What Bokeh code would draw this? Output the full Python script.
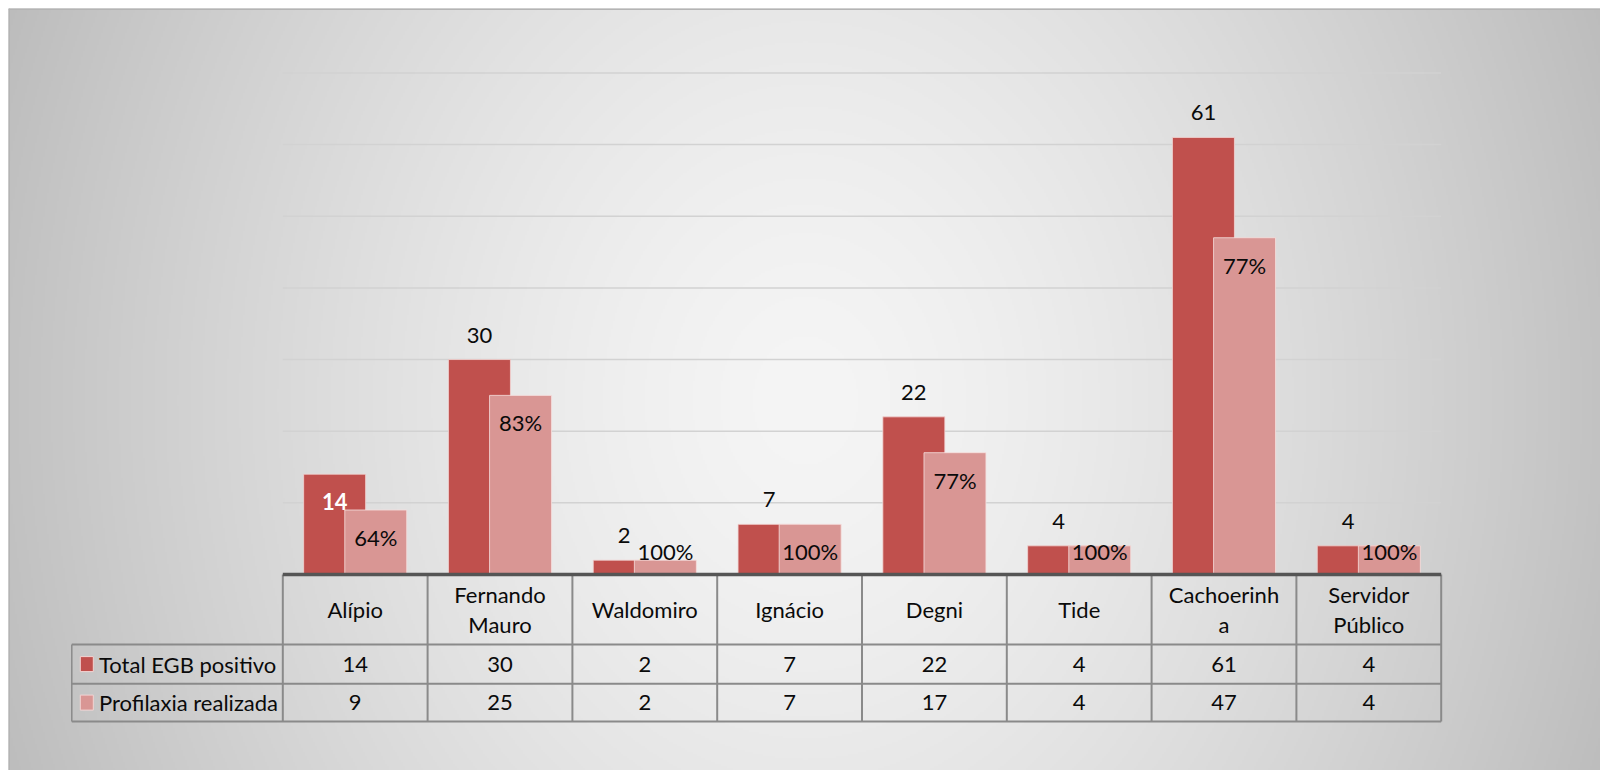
import numpy as np
from bokeh.plotting import figure
from bokeh.models import Range1d
from bokeh.core.properties import value
from bokeh.embed import file_html
from bokeh.resources import INLINE

# ---------------- data ----------------
categories = ["Alípio", "Fernando Mauro", "Waldomiro", "Ignácio", "Degni",
              "Tide", "Cachoerinha", "Servidor Público"]
header_lines = [["Alípio"], ["Fernando", "Mauro"], ["Waldomiro"], ["Ignácio"],
                ["Degni"], ["Tide"], ["Cachoerinh", "a"], ["Servidor", "Público"]]
total_egb = [14, 30, 2, 7, 22, 4, 61, 4]
profilaxia = [9, 25, 2, 7, 17, 4, 47, 4]
series_names = ["Total EGB positivo", "Profilaxia realizada"]
y_gridlines = [10, 20, 30, 40, 50, 60, 70]

# ---------------- style / layout ----------------
DARK = "#C0504D"
LIGHT = "#D99694"
FONT = value("Lato")
FS = "22px"
TXT = "#0a0a0a"

W, H = 1600, 770
ML, MT = 8, 8                    # white border left / top
PX_CAT = 144.8                   # pixels per category
CAT0 = 282.3                     # page x of category 0 start
PX_UNIT = 7.165                  # pixels per value unit
BASE = 574.0                     # page y of value 0

x_start = (ML - CAT0) / PX_CAT
x_end = (W - CAT0) / PX_CAT
y_end = (BASE - MT) / PX_UNIT
y_start = -(H - BASE) / PX_UNIT

def px_y(dy):
    return dy / PX_UNIT

def px_x(dx):
    return dx / PX_CAT

n = len(categories)
idx = np.arange(n)
ctr = idx + 0.5
off = 0.142
bw = 0.428

p = figure(width=W, height=H, x_range=Range1d(x_start, x_end), y_range=Range1d(y_start, y_end),
           x_axis_type=None, y_axis_type=None, toolbar_location=None, output_backend="svg",
           min_border=0, min_border_left=ML, min_border_top=MT, outline_line_color=None,
           background_fill_color="#dcdcdc", border_fill_color="white")

# background gradient over the frame
FW, FH = W - ML, H - MT
ny, nx = FH // 2, FW // 2
jj, ii = np.mgrid[0:ny, 0:nx]
px_page = ML + (ii + 0.5) * 2
py_page = MT + FH - (jj + 0.5) * 2
r = np.sqrt(((px_page - 805) / 820.0) ** 2 + ((py_page - 400) / 1000.0) ** 2)
r = np.clip(r, 0, 1.15)
g = np.clip(245 - 53 * r ** 1.45, 0, 255).astype(np.uint8)
rgba = np.zeros((ny, nx, 4), dtype=np.uint8)
rgba[..., 0] = g
rgba[..., 1] = g
rgba[..., 2] = g
rgba[..., 3] = 255
img = rgba.view(np.uint32).reshape(ny, nx)
p.image_rgba(image=[img], x=x_start, y=y_start, dw=x_end - x_start, dh=y_end - y_start)

# frame lines (top / left)
p.segment(x0=[x_start, x_start], y0=[y_end, y_end], x1=[x_end, x_start], y1=[y_end, y_start],
          line_color="#b4b4b4", line_width=3)

# gridlines
p.segment(x0=[0] * len(y_gridlines), x1=[n] * len(y_gridlines), y0=y_gridlines, y1=y_gridlines,
          line_color="#d2d2d2", line_width=1.5)

# bars
p.vbar(x=ctr - off, top=total_egb, bottom=0, width=bw, fill_color=DARK,
       line_color="#f2d4d3", line_width=1, line_alpha=0.8)
p.vbar(x=ctr + off, top=profilaxia, bottom=0, width=bw, fill_color=LIGHT,
       line_color="#f6e0df", line_width=1, line_alpha=0.8)

# data labels
dark_inside = [True, False, False, False, False, False, False, False]
above = px_y(24.5)
inside = px_y(27.5)
min_lab = px_y(23.3)
dx_out, dy_out, dx_in, dy_in = [], [], [], []
lab_out, lab_in = [], []
for i, v in enumerate(total_egb):
    if dark_inside[i]:
        dx_in.append(ctr[i] - off); dy_in.append(max(v - inside, min_lab)); lab_in.append(str(v))
    else:
        dx_out.append(ctr[i] - off); dy_out.append(v + above); lab_out.append(str(v))
p.text(x=dx_out, y=dy_out, text=lab_out, text_font=FONT, text_font_size=FS,
       text_align="center", text_baseline="middle", text_color=TXT)
p.text(x=dx_in, y=dy_in, text=lab_in, text_font=FONT, text_font_size=FS,
       text_font_style="bold", text_align="center", text_baseline="middle", text_color="white")

pct = [f"{round(100 * pv / tv)}%" for pv, tv in zip(profilaxia, total_egb)]
p.text(x=ctr + off, y=[max(v - inside, min_lab) for v in profilaxia], text=pct,
       text_font=FONT, text_font_size=FS, text_align="center", text_baseline="middle",
       text_color=TXT)

# ---------------- data table ----------------
hdr_b = -px_y(70)
r1_b = hdr_b - px_y(39.2)
r2_b = r1_b - px_y(37.8)
leg_l = px_x(71.3 - CAT0)

p.segment(x0=list(range(n + 1)), x1=list(range(n + 1)), y0=[0] * (n + 1), y1=[r2_b] * (n + 1),
          line_color="#8a8a8a", line_width=2)
p.segment(x0=[leg_l], x1=[leg_l], y0=[hdr_b], y1=[r2_b], line_color="#8a8a8a", line_width=1.5)
p.segment(x0=[leg_l] * 3, x1=[n] * 3, y0=[hdr_b, r1_b, r2_b], y1=[hdr_b, r1_b, r2_b],
          line_color="#8a8a8a", line_width=2)
p.segment(x0=[0], x1=[n], y0=[0], y1=[0], line_color="#555555", line_width=3.5)

hx, hy, ht = [], [], []
lh = px_y(29.3)
hc = hdr_b / 2
for i, lines in enumerate(header_lines):
    k = len(lines)
    for j, s in enumerate(lines):
        hx.append(ctr[i])
        hy.append(hc + (k - 1) / 2 * lh - j * lh)
        ht.append(s)
p.text(x=hx, y=hy, text=ht, text_font=FONT, text_font_size=FS, text_align="center",
       text_baseline="middle", text_color=TXT)

r1c = (hdr_b + r1_b) / 2
r2c = (r1_b + r2_b) / 2
p.text(x=ctr, y=[r1c] * n, text=[str(v) for v in total_egb], text_font=FONT,
       text_font_size=FS, text_align="center", text_baseline="middle", text_color=TXT)
p.text(x=ctr, y=[r2c] * n, text=[str(v) for v in profilaxia], text_font=FONT,
       text_font_size=FS, text_align="center", text_baseline="middle", text_color=TXT)

sw_x = px_x(86.3 - CAT0)
p.rect(x=[sw_x, sw_x], y=[r1c, r2c], width=13, height=15, width_units="screen",
       height_units="screen", fill_color=[DARK, LIGHT], line_color="#f2d4d3", line_width=1)
p.text(x=[px_x(98.5 - CAT0)] * 2, y=[r1c, r2c], text=series_names, text_font=FONT,
       text_font_size=FS, text_align="left", text_baseline="middle", text_color=TXT)

open("out.html", "w").write(file_html(p, INLINE))
